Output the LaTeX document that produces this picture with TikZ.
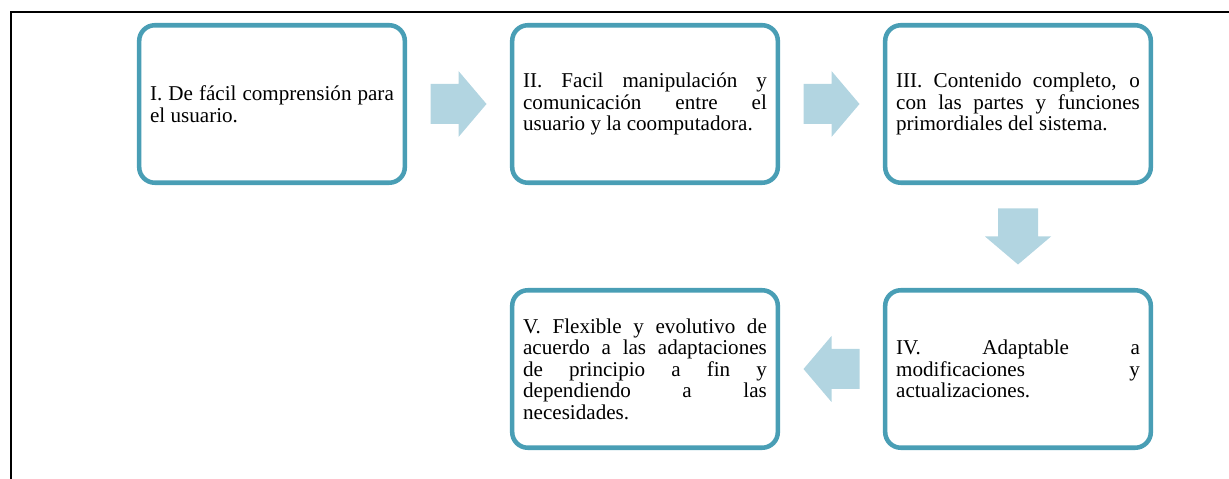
\documentclass[tikz,border=0pt]{standalone}
\usepackage{fontspec}
\setmainfont{Liberation Serif}
\usepackage{tikz}
\usetikzlibrary{calc}
\usepackage{xcolor}

\tolerance=10000
\hbadness=10000
\hfuzz=5pt
\hyphenpenalty=10000

\definecolor{boxline}{RGB}{73,158,181}
\definecolor{arrowfill}{RGB}{178,213,225}

\begin{document}
\begin{tikzpicture}[x=0.64pt, y=-0.64pt,
  stepbox/.style={draw=boxline, line width=2.9pt, rounded corners=10pt, fill=white,
    minimum width=170pt, minimum height=100.8pt, text width=156pt, inner xsep=7pt,
    align=justify, font=\fontsize{13.5}{13.8}\selectfont},
  blockarrow/.style={fill=arrowfill}]
  % Canvas (pixel units, y down)
  \useasboundingbox (0,0) rectangle (1229,479);
  \draw[line width=1.3pt] (1229,12) -- (11,12) -- (11,479);

  % Steps: (name/x/y/text)
  \foreach \n/\x/\y/\txt in {%
    b1/272/104/{I. De fácil comprensión para\linebreak el usuario.},
    b2/645/104/{II. Facil manipulación y\linebreak comunicación entre el\linebreak usuario y la coomputadora.},
    b3/1018/104/{III. Contenido completo, o\linebreak con las partes y funciones\linebreak primordiales del sistema.},
    b4/1018/369/{IV. Adaptable a\linebreak modificaciones y\linebreak actualizaciones.},
    b5/645/369/{V. Flexible y evolutivo de\linebreak acuerdo a las adaptaciones\linebreak de principio a fin y\linebreak dependiendo a las\linebreak necesidades.}%
  } {%
    \node[stepbox] (\n) at (\x,\y) {\txt};
  }

  % Block arrows between steps (from/to/angle)
  \foreach \a/\b/\ang in {b1/b2/0, b2/b3/0, b3/b4/-90, b4/b5/180} {%
    \coordinate (mid\a) at ($(\a)!0.5!(\b)$);
    \fill[blockarrow, shift={(mid\a)}, rotate=\ang]
      (-28,-20) -- (0,-20) -- (0,-33) -- (28,0) -- (0,33) -- (0,20) -- (-28,20) -- cycle;
  }
\end{tikzpicture}
\end{document}
